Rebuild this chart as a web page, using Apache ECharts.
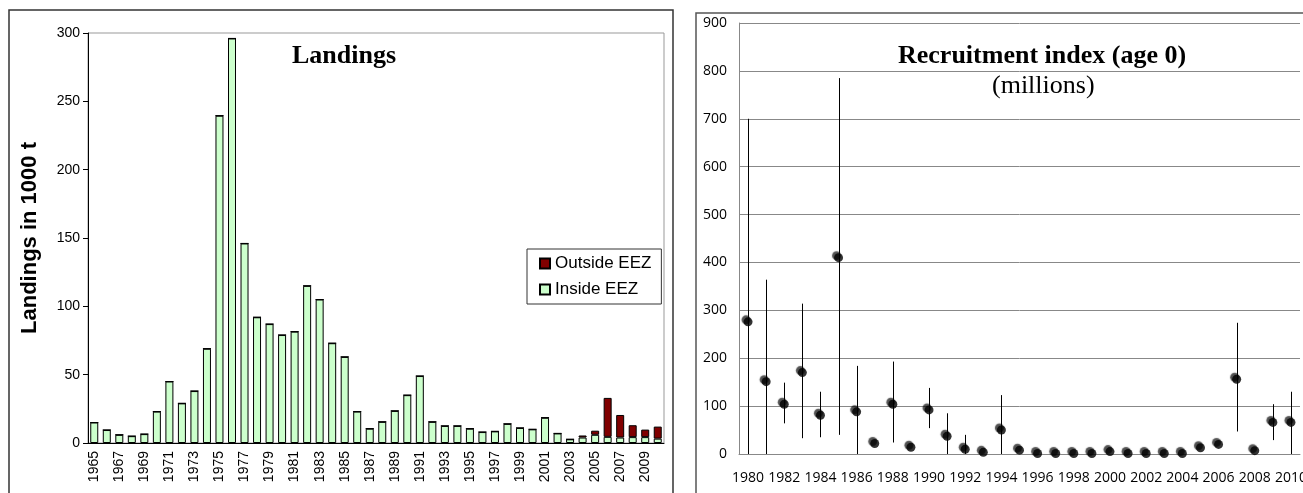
<!DOCTYPE html>
<html>
<head>
<meta charset="utf-8">
<script src="https://cdn.jsdelivr.net/npm/echarts@6/dist/echarts.min.js"></script>
<style>
  html, body { margin: 0; padding: 0; background: #fff; }
  #chart { width: 1303px; height: 493px; }
</style>
</head>
<body>
<div id="chart"></div>
<script>
// landings, 1000 t
var landYears = [];
for (var y = 1965; y <= 2010; y++) landYears.push(String(y));
var insideEEZ = [15, 9.5, 6, 5, 6.5, 23, 45, 29, 38, 69,
  239.5, 296, 146, 92, 87, 79, 81.5, 115, 105, 73,
  63, 23, 10.5, 15.5, 23.5, 35, 49, 15.5, 12.5, 12.5,
  10.5, 8, 8.5, 14, 11, 10, 18.5, 7, 2.7, 4,
  6, 4.5, 4, 4.3, 4.3, 3.2];
var outsideEEZ = [0, 0, 0, 0, 0, 0, 0, 0, 0, 0,
  0, 0, 0, 0, 0, 0, 0, 0, 0, 0,
  0, 0, 0, 0, 0, 0, 0, 0, 0, 0,
  0, 0, 0, 0, 0, 0, 0, 0, 0, 1.5,
  3, 28.5, 16.5, 8.7, 5.5, 8.8];

// recruitment index (age 0), millions
var recYears = [];
for (var r = 1980; r <= 2010; r++) recYears.push(String(r));
var recIndex = [276, 151, 104, 170, 81, 410, 88, 22, 104, 14,
  92, 37, 10, 3.5, 50, 8, 1, 1, 1, 1,
  5, 1, 1, 1, 1, 13, 20, 156, 7, 66, 66];
var recLow = [0, 0, 64, 33, 35, 40, 0, null, 24, null,
  54, 0, 0, null, 0, null, null, null, null, null,
  null, null, null, null, null, null, null, 47, null, 29, 0];
var recHigh = [700, 364, 149, 314, 130, 785, 184, null, 193, null,
  138, 85, 40, null, 123, null, null, null, null, null,
  null, null, null, null, null, null, null, 274, null, 104, 130];

var errData = [];
recYears.forEach(function (yr, i) {
  if (recLow[i] !== null) errData.push([i, recLow[i], recHigh[i]]);
});

var chart = echarts.init(document.getElementById('chart'));
var sans = 'Liberation Sans, Arial, sans-serif';
var serif = 'Liberation Serif, Times New Roman, serif';
var calib = 'Open Sans, sans-serif';

chart.setOption({
  animation: false,
  graphic: [
    { type: 'rect', shape: { x: 9, y: 10, width: 664, height: 500 },
      style: { fill: 'none', stroke: '#333', lineWidth: 1.5 }, z: 0 },
    { type: 'rect', shape: { x: 696, y: 13, width: 640, height: 500 },
      style: { fill: 'none', stroke: '#555', lineWidth: 1.5 }, z: 0 },
    { type: 'text', left: 292, top: 43, z: 10,
      style: { text: 'Landings', font: 'bold 26px ' + serif, fill: '#000' } },
    { type: 'text', left: 898, top: 43, z: 10,
      style: { text: 'Recruitment index (age 0)', font: 'bold 26px ' + serif, fill: '#000' } },
    { type: 'text', left: 992, top: 73, z: 10,
      style: { text: '(millions)', font: '26px ' + serif, fill: '#000' } }
  ],
  legend: {
    data: ['Outside EEZ', 'Inside EEZ'],
    orient: 'vertical',
    left: 527, top: 249,
    icon: 'rect',
    itemWidth: 10, itemHeight: 10, itemGap: 9,
    padding: [6, 10, 6, 12],
    borderColor: '#333', borderWidth: 1,
    backgroundColor: '#fff',
    textStyle: { fontFamily: sans, fontSize: 17, color: '#000' }
  },
  grid: [
    { left: 88, top: 33, width: 576, bottom: 50, show: true, borderColor: '#999', borderWidth: 1,
      outerBoundsMode: 'none' },
    { left: 739, top: 23, right: 3, bottom: 39, outerBoundsMode: 'none' }
  ],
  xAxis: [
    {
      gridIndex: 0, type: 'category', data: landYears,
      axisLine: { lineStyle: { color: '#000' } },
      axisTick: { interval: 0, length: 5, lineStyle: { color: '#000' } },
      axisLabel: { interval: 1, rotate: 90, margin: 8, fontFamily: sans, fontSize: 14, color: '#000' }
    },
    {
      gridIndex: 1, type: 'category', data: recYears,
      axisLine: { lineStyle: { color: '#888' } },
      axisTick: { show: false },
      axisLabel: { interval: 1, margin: 17, fontFamily: calib, fontSize: 14, color: '#000',
        showMaxLabel: true, hideOverlap: false }
    }
  ],
  yAxis: [
    {
      gridIndex: 0, type: 'value', min: 0, max: 300, interval: 50,
      name: 'Landings in 1000 t', nameLocation: 'middle', nameGap: 47,
      nameTextStyle: { fontFamily: sans, fontWeight: 'bold', fontSize: 22, color: '#000' },
      axisLine: { show: true, lineStyle: { color: '#000' } },
      axisTick: { show: true, length: 5, lineStyle: { color: '#000' } },
      axisLabel: { margin: 8, fontFamily: sans, fontSize: 14, color: '#000' },
      splitLine: { show: false }
    },
    {
      gridIndex: 1, type: 'value', min: 0, max: 900, interval: 100,
      axisLine: { show: true, lineStyle: { color: '#888' } },
      axisTick: { show: false },
      axisLabel: { margin: 12, fontFamily: calib, fontSize: 14, color: '#000' },
      splitLine: { lineStyle: { color: '#888', width: 1 } }
    }
  ],
  series: [
    {
      name: 'Inside EEZ', type: 'bar', stack: 'land', xAxisIndex: 0, yAxisIndex: 0,
      data: insideEEZ, barWidth: 8,
      itemStyle: { color: '#ccffcc', borderColor: '#000', borderWidth: 1 }
    },
    {
      name: 'Outside EEZ', type: 'bar', stack: 'land', xAxisIndex: 0, yAxisIndex: 0,
      data: outsideEEZ, barWidth: 8,
      itemStyle: { color: '#800000', borderColor: '#000', borderWidth: 1 }
    },
    {
      name: 'range', type: 'custom', xAxisIndex: 1, yAxisIndex: 1,
      data: errData,
      renderItem: function (params, api) {
        var lo = api.coord([api.value(0), api.value(1)]);
        var hi = api.coord([api.value(0), api.value(2)]);
        var x = Math.round(lo[0]) + 0.5;
        return {
          type: 'line',
          shape: { x1: x, y1: lo[1], x2: x, y2: hi[1] },
          style: { stroke: '#000', lineWidth: 1 }
        };
      },
      z: 3
    },
    {
      name: 'index', type: 'scatter', xAxisIndex: 1, yAxisIndex: 1,
      data: recIndex, symbol: 'circle', symbolSize: 9,
      itemStyle: { color: '#000', shadowColor: 'rgba(0,0,0,0.85)', shadowOffsetX: -2, shadowOffsetY: -2, shadowBlur: 1 },
      z: 4
    }
  ]
});
</script>
</body>
</html>
